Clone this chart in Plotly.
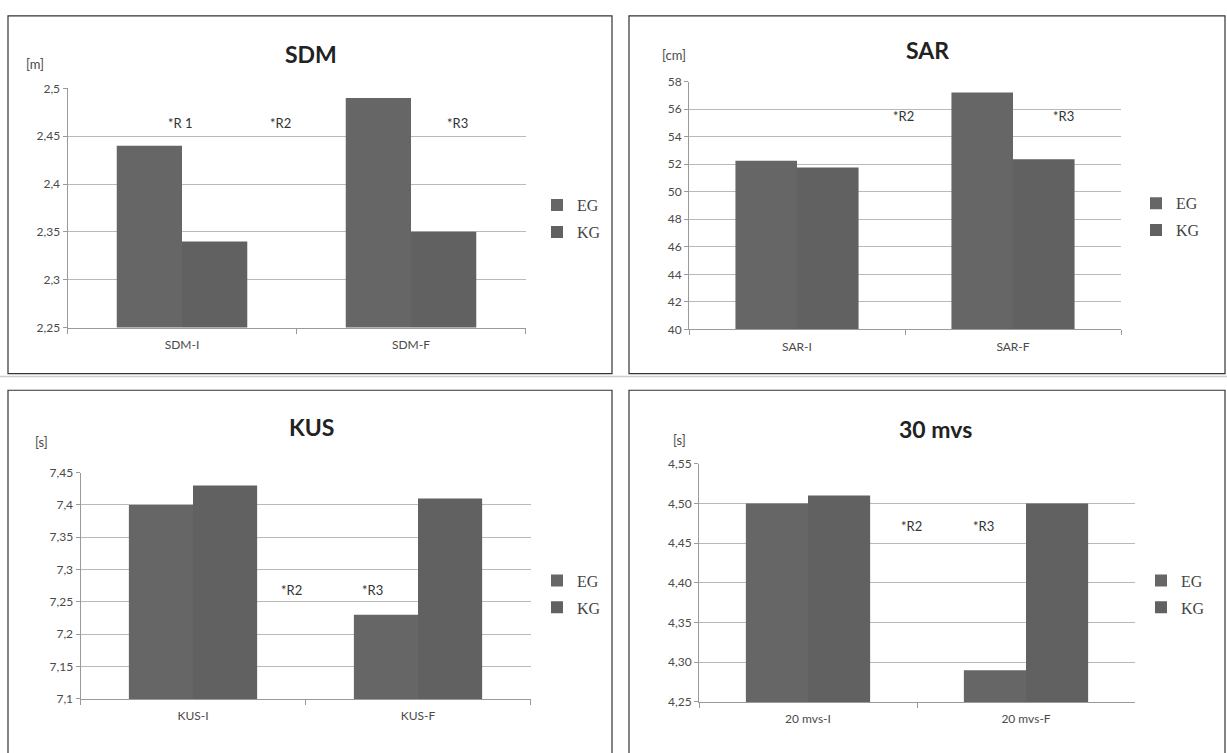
import plotly.graph_objects as go

W, H = 1227, 753

# ---------------- data ----------------
sdm_cats = ["SDM-I", "SDM-F"]
sdm_eg = [2.44, 2.49]
sdm_kg = [2.34, 2.35]

sar_cats = ["SAR-I", "SAR-F"]
sar_eg = [52.25, 57.2]
sar_kg = [51.75, 52.35]

kus_cats = ["KUS-I", "KUS-F"]
kus_eg = [7.40, 7.23]
kus_kg = [7.43, 7.41]

mvs_cats = ["20 mvs-I", "20 mvs-F"]
mvs_eg = [4.50, 4.29]
mvs_kg = [4.51, 4.50]

series_names = ["EG", "KG"]
titles = ["SDM", "SAR", "KUS", "30 mvs"]
units = ["[m]", "[cm]", "[s]", "[s]"]

# ---------------- styling ----------------
BAR_EG = "#666666"
BAR_KG = "#616161"
GRID = "#b9b9b9"
AXIS = "#9a9a9a"
TICKFONT = dict(family="Lato, Open Sans, sans-serif", size=12, color="#4a4a4a")
LEGFONT = dict(family="Liberation Serif, serif", size=16, color="#444444")


def px(x):
    return x / W


def py(y):
    return 1 - y / H


panels = [
    dict(cats=sdm_cats, eg=sdm_eg, kg=sdm_kg, x=(67.5, 525.5), y=(326, 82),
         rng=[2.25, 2.5], dtick=0.05, fmt=None, leg=(537, 215),
         title=(311, 47), unit=(35, 57)),
    dict(cats=sar_cats, eg=sar_eg, kg=sar_kg, x=(689, 1121), y=(328, 75),
         rng=[40, 58], dtick=2, fmt="d", leg=(1136, 213),
         title=(927, 43), unit=(674, 48)),
    dict(cats=kus_cats, eg=kus_eg, kg=kus_kg, x=(80.5, 530.5), y=(705, 474),
         rng=[7.1, 7.45], dtick=0.05, fmt=None, leg=(537, 598),
         title=(311, 428), unit=(41, 443)),
    dict(cats=mvs_cats, eg=mvs_eg, kg=mvs_kg, x=(699, 1135), y=(708, 465),
         rng=[4.25, 4.55], dtick=0.05, fmt=".2f", leg=(1141, 598),
         title=(935, 430), unit=(679, 441)),
]

fig = go.Figure()
layout = dict(
    width=W, height=H, margin=dict(l=0, r=0, t=0, b=0),
    paper_bgcolor="white", plot_bgcolor="white",
    separators=",.", barmode="group", bargap=0.43, bargroupgap=0,
    showlegend=True, annotations=[], shapes=[],
)

for i, p in enumerate(panels):
    n = i + 1
    xa = "x" if n == 1 else f"x{n}"
    ya = "y" if n == 1 else f"y{n}"
    legname = "legend" if n == 1 else f"legend{n}"
    for j, (vals, col) in enumerate([(p["eg"], BAR_EG), (p["kg"], BAR_KG)]):
        fig.add_trace(go.Bar(
            x=p["cats"], y=vals, name=series_names[j],
            marker=dict(color=col, line=dict(width=0)),
            xaxis=xa, yaxis=ya, legend=legname,
            legendgroup=f"{n}-{j}",
        ))
    layout["xaxis" if n == 1 else f"xaxis{n}"] = dict(
        domain=[px(p["x"][0]), px(p["x"][1])], anchor=ya,
        showline=True, linecolor=AXIS, linewidth=1,
        ticks="outside", tickson="boundaries", ticklen=5, tickcolor=AXIS,
        tickfont=TICKFONT, ticklabelstandoff=6, showgrid=False, fixedrange=True,
    )
    yax = dict(
        domain=[py(p["y"][0]), py(p["y"][1])], anchor=xa,
        range=p["rng"], dtick=p["dtick"], tick0=p["rng"][0],
        showline=True, linecolor=AXIS, linewidth=1,
        ticks="outside", ticklen=4, tickcolor=AXIS,
        showgrid=True, gridcolor=GRID, gridwidth=1,
        tickfont=TICKFONT, zeroline=False, fixedrange=True,
    )
    if p["fmt"]:
        yax["tickformat"] = p["fmt"]
    layout["yaxis" if n == 1 else f"yaxis{n}"] = yax
    layout[legname] = dict(
        x=px(p["leg"][0]), y=py(p["leg"][1]), xanchor="left", yanchor="middle",
        font=LEGFONT, bgcolor="rgba(0,0,0,0)", itemwidth=30, tracegroupgap=3,
        traceorder="grouped",
    )
    layout["annotations"].append(dict(
        x=px(p["title"][0]), y=py(p["title"][1]), xref="paper", yref="paper",
        text=f"<b>{titles[i]}</b>", showarrow=False,
        font=dict(family="Lato, Open Sans, sans-serif", size=23, color="#222222"),
        xanchor="center", yanchor="middle",
    ))
    layout["annotations"].append(dict(
        x=px(p["unit"][0]), y=py(p["unit"][1]), xref="paper", yref="paper",
        text=units[i], showarrow=False,
        font=dict(family="Lato, Open Sans, sans-serif", size=13, color="#4a4a4a"),
        xanchor="center", yanchor="middle",
    ))

# significance markers (data coordinates: category index, value)
sig = [
    ("x", "y", -0.005, 2.464, "*R 1"),
    ("x", "y", 0.43, 2.464, "*R2"),
    ("x", "y", 1.205, 2.464, "*R3"),
    ("x2", "y2", 0.495, 55.5, "*R2"),
    ("x2", "y2", 1.236, 55.5, "*R3"),
    ("x3", "y3", 0.436, 7.268, "*R2"),
    ("x3", "y3", 0.796, 7.268, "*R3"),
    ("x4", "y4", 0.477, 4.471, "*R2"),
    ("x4", "y4", 0.807, 4.471, "*R3"),
]
for xr, yr, xv, yv, t in sig:
    layout["annotations"].append(dict(
        x=xv, y=yv, xref=xr, yref=yr, text=t, showarrow=False,
        font=dict(family="Lato, Open Sans, sans-serif", size=13, color="#333333"),
        xanchor="center", yanchor="middle",
    ))

# panel frames
frames = [(8, 8, 612, 373), (629, 8, 1225, 373), (8, 390, 612, 800), (629, 390, 1225, 800)]
for x0, y0, x1, y1 in frames:
    layout["shapes"].append(dict(
        type="rect", xref="paper", yref="paper",
        x0=px(x0), x1=px(x1), y0=py(y1), y1=py(y0),
        line=dict(color="#333333", width=1.2), fillcolor="rgba(0,0,0,0)",
    ))
layout["shapes"].append(dict(
    type="line", xref="paper", yref="paper", x0=0, x1=1, y0=py(376), y1=py(376),
    line=dict(color="#cccccc", width=1.5),
))

fig.update_layout(**layout)
fig.write_html(
    "out.html",
    config={"displayModeBar": False},
    post_script="document.body.style.margin='0px';document.body.style.overflow='hidden';",
)
